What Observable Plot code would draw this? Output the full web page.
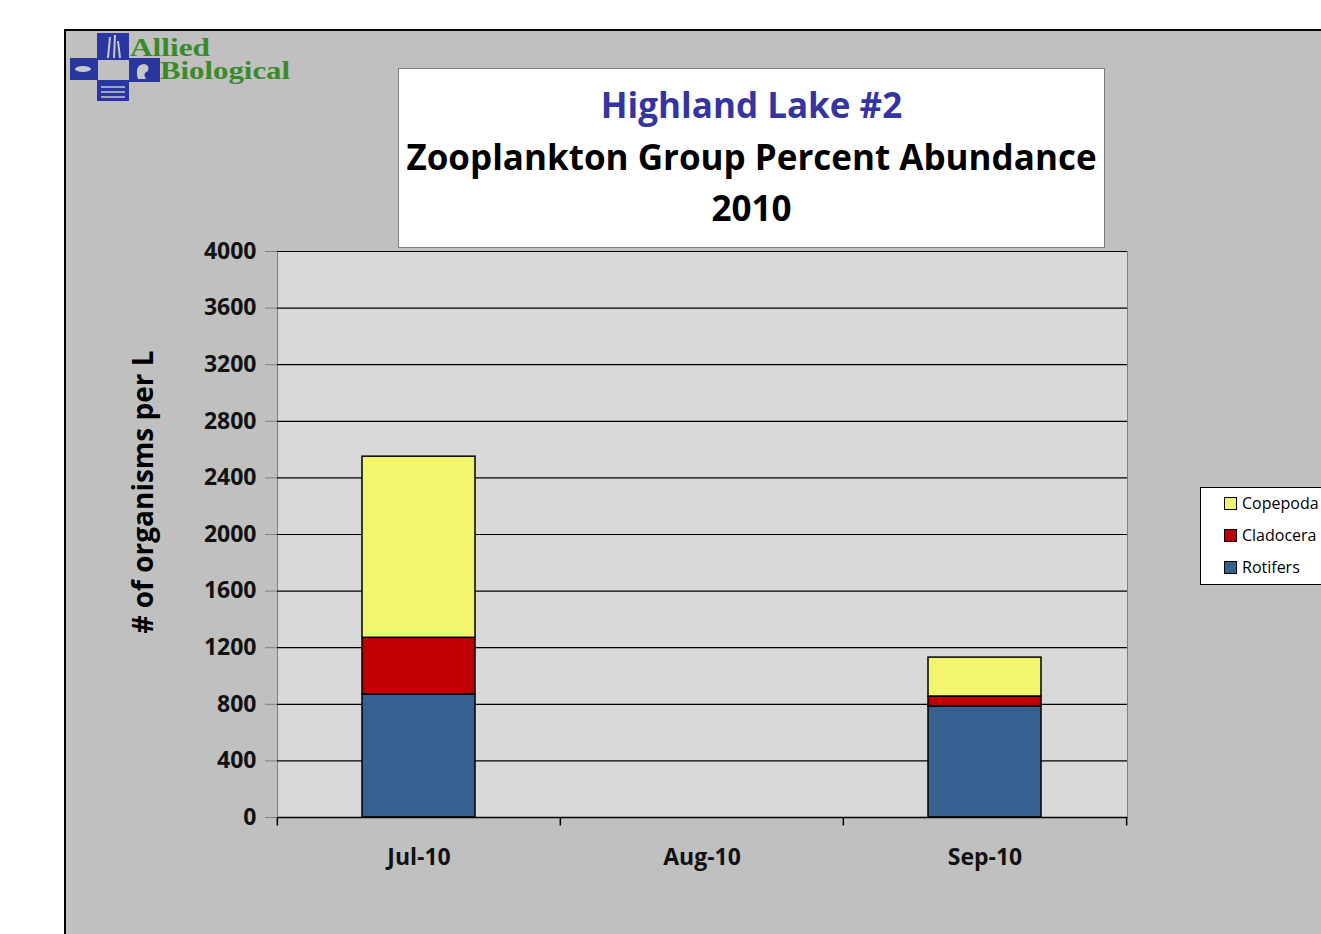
<!DOCTYPE html>
<html><head><meta charset="utf-8">
<script src="https://cdn.jsdelivr.net/npm/d3@7"></script>
<script src="https://cdn.jsdelivr.net/npm/@observablehq/plot@0.6"></script>
<style>
body{margin:0;background:#fff;width:1321px;height:934px;overflow:hidden;position:relative;font-family:"Open Sans",sans-serif}
#bg{position:absolute;left:64px;top:29px;width:1300px;height:950px;background:#c0c0c0;border-left:2px solid #000;border-top:2px solid #000}
#chart{position:absolute;left:0;top:0}
#title{position:absolute;left:398px;top:68px;width:705px;height:178px;background:#fff;border:1.5px solid #7f7f7f;text-align:center;font-weight:bold;font-size:35px;color:#000}
#title div{position:absolute;left:0;right:0;line-height:40px;white-space:nowrap}
#ylab{position:absolute;left:142px;top:492px;transform:translate(-50%,-50%) rotate(-90deg);font-weight:bold;font-size:28px;white-space:nowrap;color:#000}
#legend{position:absolute;left:1200px;top:487px;width:140px;height:96px;background:#fff;border:1.5px solid #000;font-size:16px;color:#000}
#legend .it{position:absolute;left:23px;height:20px;line-height:20px;white-space:nowrap}
#legend .sw{display:inline-block;width:11px;height:11px;border:1px solid #000;vertical-align:-1px;margin-right:5px}
#logo{position:absolute;left:68px;top:31px}
</style></head>
<body>
<div id="bg"></div>
<svg id="logo" width="240" height="75" viewBox="0 0 240 75">
  <rect x="29" y="2" width="32" height="27" fill="#2a36a0"/>
  <rect x="2" y="27" width="28" height="22" fill="#2a36a0"/>
  <rect x="61" y="27" width="31" height="24" fill="#2a36a0"/>
  <rect x="29" y="49" width="32" height="21" fill="#2a36a0"/>
  <path d="M40 27 L42 6 M46 27 L47 4 M52 27 L50 10" stroke="#c8c8c8" stroke-width="2"/>
  <ellipse cx="15" cy="38" rx="8" ry="3" fill="#c8c8c8"/>
  <path d="M70 48 Q66 34 76 33 Q82 34 80 40 Q74 42 78 48 Z" fill="#c8c8c8"/>
  <path d="M33 56 H57 M33 61 H57 M33 66 H57" stroke="#c8c8c8" stroke-width="1.5"/>
  <text x="62" y="25" font-family="Liberation Serif" font-weight="bold" font-size="25" fill="#3b8a2a" textLength="80" lengthAdjust="spacingAndGlyphs">Allied</text>
  <text x="92" y="48" font-family="Liberation Serif" font-weight="bold" font-size="25" fill="#3b8a2a" textLength="130" lengthAdjust="spacingAndGlyphs">Biological</text>
</svg>
<div id="chart"></div>
<div id="title">
  <div style="top:16px;color:#3535a2">Highland Lake #2</div>
  <div style="top:68px">Zooplankton Group Percent Abundance</div>
  <div style="top:119px">2010</div>
</div>
<div id="ylab"># of organisms per L</div>
<div id="legend">
  <div class="it" style="top:5px"><span class="sw" style="background:#f2f66f"></span>Copepoda</div>
  <div class="it" style="top:37px"><span class="sw" style="background:#c00000"></span>Cladocera</div>
  <div class="it" style="top:69px"><span class="sw" style="background:#36608f"></span>Rotifers</div>
</div>
<script>
const months = ["Jul-10", "Aug-10", "Sep-10"];
const groups = ["Rotifers", "Cladocera", "Copepoda"];
const rotifers = [870, 0, 785];
const cladocera = [400, 0, 70];
const copepoda = [1280, 0, 275];
const yTicks = [0, 400, 800, 1200, 1600, 2000, 2400, 2800, 3200, 3600, 4000];
const colors = ["#36608f", "#c00000", "#f2f66f"];

const series = [rotifers, cladocera, copepoda];
const data = [];
months.forEach((m, i) => groups.forEach((g, j) => {
  if (series[j][i] > 0) data.push({month: m, group: g, value: series[j][i]});
}));

const W = 1321, ML = 277, MR = 194;
const step = (W - ML - MR) / months.length;

const chart = Plot.plot({
  width: W, height: 934,
  marginLeft: ML, marginRight: MR, marginTop: 251, marginBottom: 117,
  style: {background: "transparent", fontFamily: "Open Sans", overflow: "visible", color: "#000"},
  x: {domain: months, paddingInner: 0.6, paddingOuter: 0.3, axis: null},
  y: {domain: [0, 4000], axis: null},
  color: {domain: groups, range: colors},
  marks: [
    Plot.frame({fill: "#d9d9d9", stroke: "#808080"}),
    Plot.gridY(yTicks, {stroke: "#000", strokeOpacity: 1, strokeWidth: 1.2}),
    Plot.axisY({ticks: yTicks, tickFormat: d => String(d), tickSize: 12, tickPadding: 9, fontSize: 23, fontWeight: "bold", label: null, stroke: "#808080", fill: "#111"}),
    Plot.barY(data, {x: "month", y: "value", fill: "group", stroke: "#000", strokeWidth: 1.5, order: groups}),
    Plot.ruleY([0], {stroke: "#000", strokeWidth: 1.5}),
    Plot.ruleX(months, {x: d => d, dx: -step / 2, y1: 0, y2: -60, stroke: "#000", strokeWidth: 1.5}),
    Plot.ruleX(months.slice(-1), {x: d => d, dx: step / 2, y1: 0, y2: -60, stroke: "#000", strokeWidth: 1.5}),
    Plot.axisX({tickSize: 0, tickPadding: 31, fontSize: 23, fontWeight: "bold", label: null, fill: "#111"})
  ]
});
document.getElementById("chart").append(chart);
</script>
</body></html>
